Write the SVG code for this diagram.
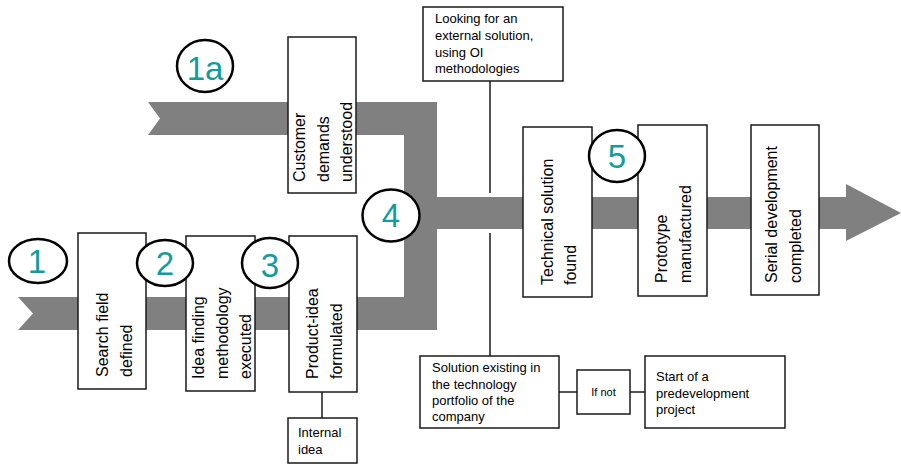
<svg xmlns="http://www.w3.org/2000/svg" width="901" height="464" viewBox="0 0 901 464">
<style>
.box{fill:#fff;stroke:#1a1a1a;stroke-width:1.5}
.vt{font-family:"Liberation Sans",Arial,sans-serif;font-size:16px;fill:#000}
.bt{font-family:"Liberation Sans",Arial,sans-serif;font-size:13px;fill:#000}
.num{fill:#fff;stroke:#000;stroke-width:2.5}
.nt{font-family:"Liberation Sans",Arial,sans-serif;font-size:33px;fill:#169b9b;text-anchor:middle}
.ln{stroke:#1a1a1a;stroke-width:1.5;fill:none}
</style>
<rect width="901" height="464" fill="#fff"/>
<g id="band">
<path d="M148,102 L437,102 L437,197 L846,197 L846,184 L901,213 L846,241 L846,229 L437,229 L437,330 L18,330 L33,313.5 L18,297 L404,297 L404,135 L148,135 L160,118.5 Z" fill="#808080"/>
</g>
<g id="connectors">
<line class="ln" x1="490" y1="81" x2="490" y2="193"/>
<line class="ln" x1="490" y1="233" x2="490" y2="356"/>
<line class="ln" x1="559" y1="392" x2="577" y2="392"/>
<line class="ln" x1="630" y1="392" x2="645" y2="392"/>
<line class="ln" x1="322" y1="392" x2="322" y2="418"/>
</g>
<g id="customer">
<rect class="box" x="288" y="37" width="68" height="156"/>
<text class="vt" transform="translate(305,182) rotate(-90)">Customer</text>
<text class="vt" transform="translate(328.5,182) rotate(-90)">demands</text>
<text class="vt" transform="translate(352,182) rotate(-90)">understood</text>
</g>
<g id="search">
<rect class="box" x="78" y="233" width="68" height="156"/>
<text class="vt" transform="translate(108,377) rotate(-90)">Search field</text>
<text class="vt" transform="translate(132,377) rotate(-90)">defined</text>
</g>
<g id="ideafinding">
<rect class="box" x="186" y="236" width="69" height="155"/>
<text class="vt" transform="translate(204,379) rotate(-90)">Idea finding</text>
<text class="vt" transform="translate(227.5,379) rotate(-90)">methodology</text>
<text class="vt" transform="translate(251,379) rotate(-90)">executed</text>
</g>
<g id="productidea">
<rect class="box" x="289" y="236" width="68" height="156"/>
<text class="vt" transform="translate(318,379) rotate(-90)">Product-idea</text>
<text class="vt" transform="translate(342,379) rotate(-90)">formulated</text>
</g>
<g id="internal">
<rect class="box" x="288" y="418" width="69" height="45"/>
<text class="bt" x="298" y="437">Internal</text>
<text class="bt" x="298" y="454">idea</text>
</g>
<g id="technical">
<rect class="box" x="523" y="127" width="69" height="170"/>
<text class="vt" transform="translate(553,285) rotate(-90)">Technical solution</text>
<text class="vt" transform="translate(576,285) rotate(-90)">found</text>
</g>
<g id="prototype">
<rect class="box" x="638" y="125" width="69" height="171"/>
<text class="vt" transform="translate(667,283) rotate(-90)">Prototype</text>
<text class="vt" transform="translate(691,283) rotate(-90)">manufactured</text>
</g>
<g id="serial">
<rect class="box" x="751" y="125" width="68" height="170"/>
<text class="vt" transform="translate(777,283) rotate(-90)">Serial development</text>
<text class="vt" transform="translate(801,283) rotate(-90)">completed</text>
</g>
<g id="external">
<rect class="box" x="423" y="7" width="140" height="74"/>
<text class="bt" x="435" y="23">Looking for an</text>
<text class="bt" x="435" y="40">external solution,</text>
<text class="bt" x="435" y="56.5">using OI</text>
<text class="bt" x="435" y="73">methodologies</text>
</g>
<g id="existing">
<rect class="box" x="420" y="356" width="139" height="72"/>
<text class="bt" x="432" y="372">Solution existing in</text>
<text class="bt" x="432" y="388.5">the technology</text>
<text class="bt" x="432" y="405">portfolio of the</text>
<text class="bt" x="432" y="421">company</text>
</g>
<g id="ifnot">
<rect class="box" x="577" y="370" width="53" height="44"/>
<text x="603.5" y="396" font-family="Liberation Sans, Arial, sans-serif" font-size="11" text-anchor="middle">If not</text>
</g>
<g id="predev">
<rect class="box" x="645" y="356" width="140" height="72"/>
<text class="bt" x="656" y="381">Start of a</text>
<text class="bt" x="656" y="397.5">predevelopment</text>
<text class="bt" x="656" y="414">project</text>
</g>
<g id="n1"><ellipse class="num" cx="38" cy="261" rx="29" ry="22"/><text class="nt" x="37" y="273">1</text></g>
<g id="n2"><ellipse class="num" cx="165" cy="263" rx="28" ry="23"/><text class="nt" x="165" y="275">2</text></g>
<g id="n3"><ellipse class="num" cx="270" cy="263" rx="28" ry="25"/><text class="nt" x="270" y="277">3</text></g>
<g id="n1a"><ellipse class="num" cx="205" cy="66" rx="28" ry="26"/><text class="nt" x="205" y="80">1a</text></g>
<g id="n4"><ellipse class="num" cx="391" cy="215.5" rx="28.5" ry="26"/><text class="nt" x="391" y="227">4</text></g>
<g id="n5"><ellipse class="num" cx="617" cy="156" rx="28" ry="26"/><text class="nt" x="617" y="168">5</text></g>
</svg>
